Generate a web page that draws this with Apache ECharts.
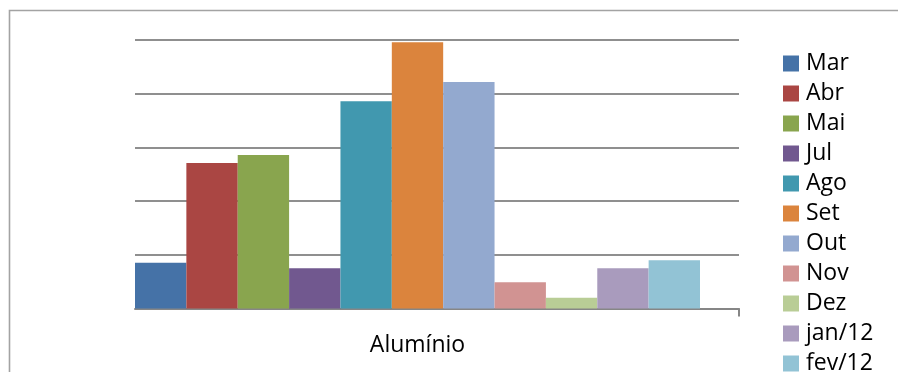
<!DOCTYPE html>
<html>
<head>
<meta charset="utf-8">
<script src="https://cdn.jsdelivr.net/npm/echarts@6/dist/echarts.min.js"></script>
<style>
  html, body { margin: 0; padding: 0; background: #fff; }
  #chart { width: 898px; height: 372px; }
</style>
</head>
<body>
<div id="chart"></div>
<script>
// Monthly aluminium figures, one bar per month
const category = ['Alumínio'];
const months = ['Mar', 'Abr', 'Mai', 'Jul', 'Ago', 'Set', 'Out', 'Nov', 'Dez', 'jan/12', 'fev/12'];
const values = [8.5, 27.1, 28.6, 7.5, 38.6, 49.6, 42.2, 4.9, 2.0, 7.5, 9.0];
const colors = ['#4572A7', '#AA4643', '#89A54E', '#71588F', '#4198AF', '#DB843D',
                '#93A9CF', '#D19392', '#B9CD96', '#A99BBD', '#92C3D5'];
const yMin = 0, yMax = 50, yStep = 10;

const FONT = 'Open Sans';
const chart = echarts.init(document.getElementById('chart'), null, { renderer: 'canvas' });

const series = months.map((m, i) => ({
  name: m,
  type: 'bar',
  xAxisIndex: 1,
  yAxisIndex: 1,
  data: [values[i]],
  barGap: '0%',
  barCategoryGap: '0%',
  itemStyle: { color: colors[i] },
  emphasis: { disabled: true }
}));

chart.setOption({
  animation: false,
  textStyle: { fontFamily: FONT },
  graphic: [{
    type: 'rect',
    shape: { x: 9.5, y: 10.5, width: 1000, height: 500 },
    style: { fill: 'none', stroke: '#a3a3a3', lineWidth: 1.6 },
    silent: true,
    z: -10
  }],
  legend: {
    orient: 'vertical',
    left: 783,
    top: 52,
    height: 330,
    padding: 0,
    itemWidth: 16,
    itemHeight: 16,
    itemGap: 7,
    icon: 'rect',
    selectedMode: false,
    data: months,
    textStyle: { fontFamily: FONT, fontSize: 23, color: '#000', padding: [0, 0, 0, 2] }
  },
  grid: [
    // frame holding gridlines and the baseline
    { left: 135, top: 40, width: 604, height: 268.5, containLabel: false },
    // band holding the bars and the category label
    { left: 135, top: 40, width: 565, height: 268.5, containLabel: false }
  ],
  xAxis: [
    {
      gridIndex: 0, type: 'value', min: 0, max: 1, interval: 1,
      axisLine: { show: true, lineStyle: { color: '#868686', width: 2 } },
      axisTick: { show: true, customValues: [1], length: 8, lineStyle: { color: '#868686', width: 2 } },
      axisLabel: { show: false },
      splitLine: { show: false }
    },
    {
      gridIndex: 1, type: 'category', data: category,
      axisLine: { show: false },
      axisTick: { show: false },
      axisLabel: { show: true, fontFamily: FONT, fontSize: 23, color: '#000', margin: 25 },
      splitLine: { show: false }
    }
  ],
  yAxis: [
    {
      gridIndex: 0, type: 'value', min: yMin, max: yMax, interval: yStep,
      axisLine: { show: false }, axisTick: { show: false }, axisLabel: { show: false },
      splitLine: { show: true, lineStyle: { color: '#8f8f8f', width: 1.8 } }
    },
    {
      gridIndex: 1, type: 'value', min: yMin, max: yMax, interval: yStep,
      axisLine: { show: false }, axisTick: { show: false }, axisLabel: { show: false },
      splitLine: { show: false }
    }
  ],
  series: series
});
</script>
</body>
</html>
